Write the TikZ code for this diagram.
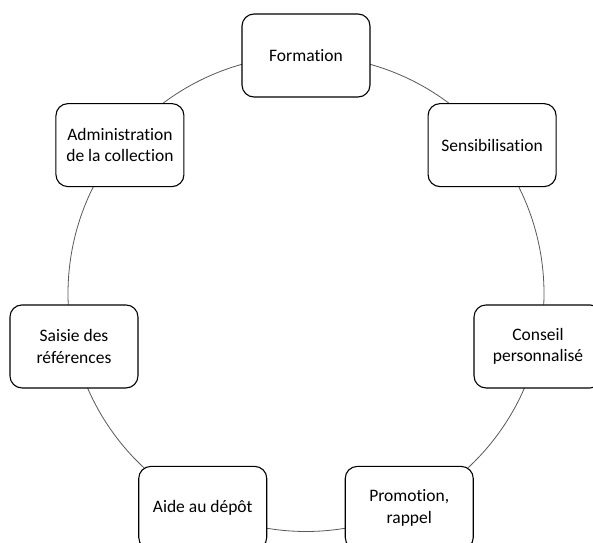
\documentclass[tikz,border=0pt]{standalone}
\usepackage{fontspec}
\setmainfont{Carlito}[Ligatures={NoCommon}]
\usetikzlibrary{backgrounds}
\begin{document}
\begin{tikzpicture}[x=1pt,y=1pt,
  box/.style={draw=black, line width=1.1pt, fill=white, rounded corners=12pt,
    minimum width=128pt, minimum height=83pt, align=center, inner sep=0pt,
    font=\fontsize{17.5}{21.4}\selectfont},
  ring/.style={draw=black!65, line width=0.8pt}]
\useasboundingbox (0,0) rectangle (593,542);
\clip (0,0) rectangle (593,542);
\coordinate (c) at (306,248.5);
\node[box] (n0) at ([shift={(90:238pt)}]c) {Formation};
\node[box] (n1) at ([shift={(38.571:238pt)}]c) {Sensibilisation};
\node[box] (n2) at ([shift={(-12.857:238pt)}]c) {Conseil\\personnalisé};
\node[box] (n3) at ([shift={(-64.286:238pt)}]c) {Promotion,\\rappel};
\node[box] (n4) at ([shift={(-115.714:238pt)}]c) {Aide au dépôt};
\node[box] (n5) at ([shift={(-167.143:238pt)}]c) {Saisie des\\références};
\node[box] (n6) at ([shift={(141.429:238pt)}]c) {Administration\\de la collection};
\begin{scope}[on background layer]
  \fill[white] (0,0) rectangle (593,542);
  \draw[ring] (n0.center) arc[start angle=90, end angle=38.571, radius=238pt];
  \draw[ring] (n1.center) arc[start angle=38.571, end angle=-12.857, radius=238pt];
  \draw[ring] (n2.center) arc[start angle=-12.857, end angle=-64.286, radius=238pt];
  \draw[ring] (n3.center) arc[start angle=-64.286, end angle=-115.714, radius=238pt];
  \draw[ring] (n4.center) arc[start angle=-115.714, end angle=-167.143, radius=238pt];
  \draw[ring] (n5.center) arc[start angle=-167.143, end angle=-218.571, radius=238pt];
  \draw[ring] (n6.center) arc[start angle=141.429, end angle=90, radius=238pt];
\end{scope}
\end{tikzpicture}
\end{document}
